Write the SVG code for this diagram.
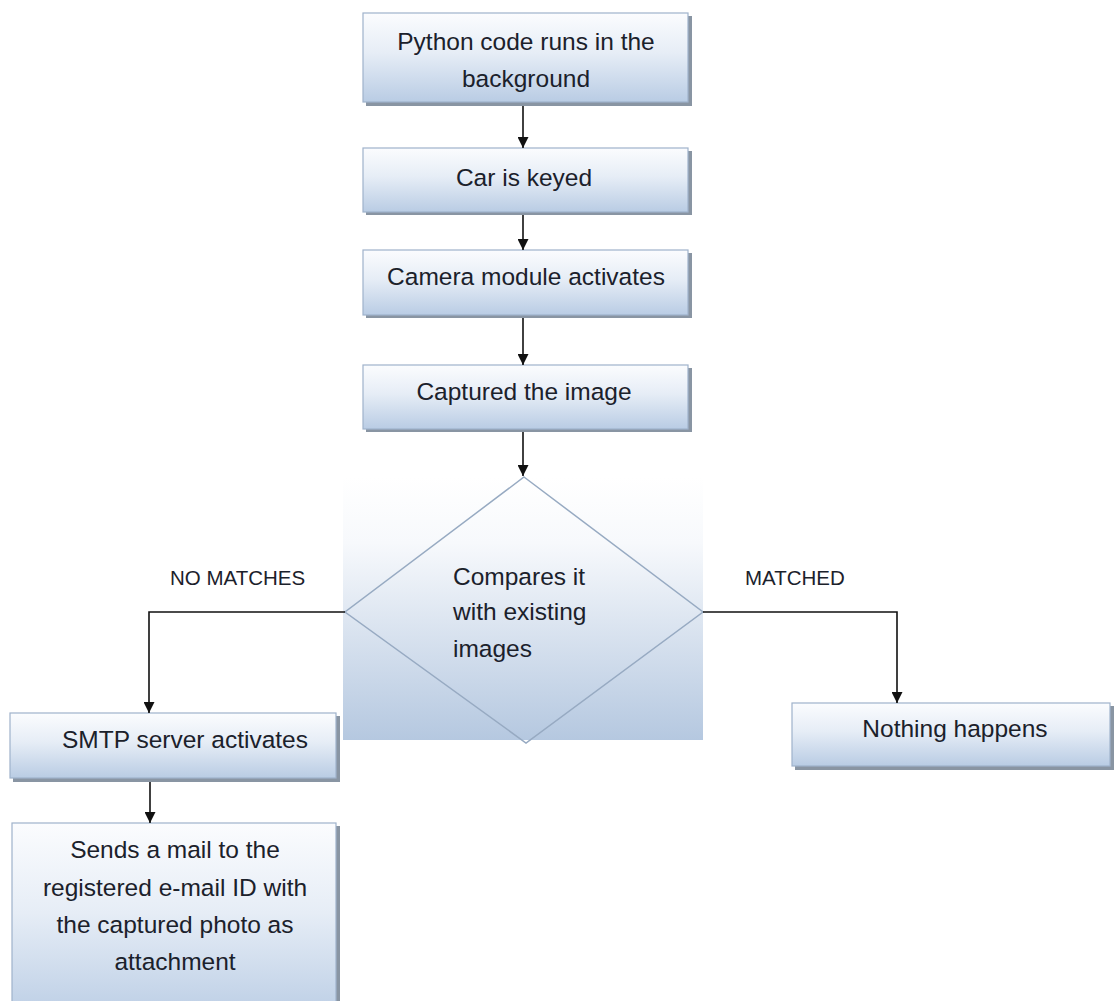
<svg xmlns="http://www.w3.org/2000/svg" width="1114" height="1001" viewBox="0 0 1114 1001">
<defs>
<linearGradient id="boxGrad" x1="0" y1="0" x2="0" y2="1">
<stop offset="0" stop-color="#fbfcfe"/>
<stop offset="0.45" stop-color="#e6edf6"/>
<stop offset="1" stop-color="#b9cce4"/>
</linearGradient>
<linearGradient id="decGrad" x1="0" y1="0" x2="0" y2="1">
<stop offset="0" stop-color="#ffffff"/>
<stop offset="0.25" stop-color="#f7f9fc"/>
<stop offset="1" stop-color="#b5c8e0"/>
</linearGradient>
<marker id="arrow" viewBox="0 0 10 10" refX="10" refY="5" markerWidth="11" markerHeight="11" markerUnits="userSpaceOnUse" orient="auto">
<path d="M0,0 L10,5 L0,10 Z" fill="#111"/>
</marker>
</defs>
<style>
.box{fill:url(#boxGrad);stroke:#9fb2cb;stroke-width:1.2}
.shadow{fill:#8995a3}
.t{font-family:"Liberation Sans",Arial,sans-serif;font-size:24.5px;fill:#1b212b}
.c{text-anchor:middle}
.lbl{font-family:"Liberation Sans",Arial,sans-serif;font-size:20.5px;fill:#1b212b}
.conn{fill:none;stroke:#111;stroke-width:1.6}
</style>
<rect width="1114" height="1001" fill="#ffffff"/>

<g id="n1">
<rect class="shadow" x="366" y="16" width="326" height="90"/>
<rect class="box" x="363" y="13" width="325" height="89"/>
<text class="t c" x="526" y="50">Python code runs in the</text>
<text class="t c" x="526" y="87">background</text>
</g>

<g id="n2">
<rect class="shadow" x="366" y="151" width="326" height="64"/>
<rect class="box" x="363" y="148" width="325" height="64"/>
<text class="t c" x="524" y="186">Car is keyed</text>
</g>

<g id="n3">
<rect class="shadow" x="366" y="253" width="326" height="65"/>
<rect class="box" x="363" y="250" width="325" height="65"/>
<text class="t c" x="526" y="285">Camera module activates</text>
</g>

<g id="n4">
<rect class="shadow" x="366" y="368" width="326" height="64"/>
<rect class="box" x="363" y="365" width="325" height="64"/>
<text class="t c" x="524" y="400">Captured the image</text>
</g>

<g id="decision">
<rect x="343" y="477" width="360" height="263" fill="url(#decGrad)"/>
<polygon points="524,477 703,612 526,743 345,612" fill="none" stroke="#97aac2" stroke-width="1.5"/>
<text class="t" x="453" y="585">Compares it</text>
<text class="t" x="453" y="620">with existing</text>
<text class="t" x="453" y="657">images</text>
</g>

<g id="smtp">
<rect class="shadow" x="13" y="716" width="327" height="66"/>
<rect class="box" x="10" y="713" width="326" height="65"/>
<text class="t c" x="185" y="748">SMTP server activates</text>
</g>

<g id="mail">
<rect class="shadow" x="15" y="826" width="325" height="200"/>
<rect class="box" x="12" y="823" width="324" height="200"/>
<text class="t c" x="175" y="858">Sends a mail to the</text>
<text class="t c" x="175" y="896">registered e-mail ID with</text>
<text class="t c" x="175" y="933">the captured photo as</text>
<text class="t c" x="175" y="970">attachment</text>
</g>

<g id="nothing">
<rect class="shadow" x="795" y="706" width="319" height="64"/>
<rect class="box" x="792" y="703" width="318" height="63"/>
<text class="t c" x="955" y="737">Nothing happens</text>
</g>

<g id="labels">
<text class="lbl" x="170" y="585">NO MATCHES</text>
<text class="lbl" x="745" y="585">MATCHED</text>
</g>

<g id="connectors">
<line class="conn" x1="523" y1="106" x2="523" y2="148" marker-end="url(#arrow)"/>
<line class="conn" x1="523" y1="215" x2="523" y2="250" marker-end="url(#arrow)"/>
<line class="conn" x1="523" y1="318" x2="523" y2="365" marker-end="url(#arrow)"/>
<line class="conn" x1="523" y1="432" x2="523" y2="476" marker-end="url(#arrow)"/>
<polyline class="conn" points="345,612 149,612 149,713" marker-end="url(#arrow)"/>
<polyline class="conn" points="703,612 897,612 897,703" marker-end="url(#arrow)"/>
<line class="conn" x1="150" y1="782" x2="150" y2="823" marker-end="url(#arrow)"/>
</g>
</svg>
